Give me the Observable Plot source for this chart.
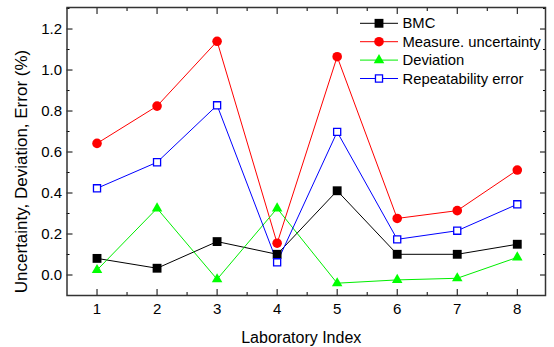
<!DOCTYPE html>
<html><head><meta charset="utf-8">
<script src="https://cdn.jsdelivr.net/npm/d3@7"></script>
<script src="https://cdn.jsdelivr.net/npm/@observablehq/plot@0.6"></script>
<style>body{margin:0;background:#fff} #chart{position:relative;width:554px;height:347px}</style>
</head><body><div id="chart"></div>
<script>
// ---- data ----
const labs = [1, 2, 3, 4, 5, 6, 7, 8];
const bmc = [0.081, 0.033, 0.163, 0.101, 0.411, 0.101, 0.101, 0.150];
const measureUnc = [0.642, 0.824, 1.140, 0.155, 1.065, 0.276, 0.314, 0.512];
const deviation = [0.024, 0.325, -0.021, 0.325, -0.040, -0.024, -0.016, 0.086];
const repeatability = [0.423, 0.550, 0.828, 0.062, 0.698, 0.174, 0.216, 0.345];
const seriesNames = ["BMC", "Measure. uncertainty", "Deviation", "Repeatability error"];
const xTicks = [1, 2, 3, 4, 5, 6, 7, 8];
const xMinor = [1.5, 2.5, 3.5, 4.5, 5.5, 6.5, 7.5];
const yTicks = [0.0, 0.2, 0.4, 0.6, 0.8, 1.0, 1.2];
const yMinor = [0.1, 0.3, 0.5, 0.7, 0.9, 1.1, 1.3];
const xTitle = "Laboratory Index";
const yTitle = "Uncertainty, Deviation, Error (%)";

// ---- styles ----
const seriesValues = [bmc, measureUnc, deviation, repeatability];
const styles = [
  {color: "#000000", symbol: "square", fill: "#000000", r: 5.0, sw: 0},
  {color: "#ff0000", symbol: "circle", fill: "#ff0000", r: 4.8, sw: 0},
  {color: "#00ee00", symbol: "triangle", fill: "#00ff00", r: 3.9, sw: 0},
  {color: "#0000ff", symbol: "square", fill: "#ffffff", r: 4.0, sw: 1.3}
];
const series = seriesNames.map((name, i) => ({
  name, style: styles[i],
  rows: labs.map((lab, j) => ({lab, value: seriesValues[i][j], name}))
}));

const font = "Liberation Sans, Arial, Helvetica, sans-serif";
const none = () => "";
const fmtY = d3.format(".1f");
const marks = [];
// tick labels
marks.push(
  Plot.text(xTicks, {x: d => d, text: d => String(d), frameAnchor: "bottom", lineAnchor: "top", dy: 8,
    fontSize: 15, fill: "#000", textAnchor: "middle"}),
  Plot.text(yTicks, {y: d => d, text: d => fmtY(d), frameAnchor: "left", lineAnchor: "middle", textAnchor: "end", dx: -5,
    fontSize: 15, fill: "#000"})
);
// tick marks (inward)
marks.push(
  Plot.axisX(xTicks, {anchor: "bottom", tickSize: 6, dy: -6, tickFormat: none, label: null}),
  Plot.axisX(xMinor, {anchor: "bottom", tickSize: 3, dy: -3, tickFormat: none, label: null}),
  Plot.axisX(xTicks, {anchor: "top", tickSize: 6, dy: 6, tickFormat: none, label: null}),
  Plot.axisX(xMinor, {anchor: "top", tickSize: 3, dy: 3, tickFormat: none, label: null}),
  Plot.axisY(yTicks, {anchor: "left", tickSize: 6, dx: 6, tickFormat: none, label: null}),
  Plot.axisY(yMinor, {anchor: "left", tickSize: 3, dx: 3, tickFormat: none, label: null}),
  Plot.axisY(yTicks, {anchor: "right", tickSize: 6, dx: -6, tickFormat: none, label: null}),
  Plot.axisY(yMinor, {anchor: "right", tickSize: 3, dx: -3, tickFormat: none, label: null})
);
for (const s of series) {
  marks.push(Plot.line(s.rows, {x: "lab", y: "value", stroke: s.style.color, strokeWidth: 1}));
}
for (const s of series) {
  marks.push(Plot.dot(s.rows, {x: "lab", y: "value", symbol: s.style.symbol, r: s.style.r,
    fill: s.style.fill, stroke: s.style.sw ? s.style.color : "none", strokeWidth: s.style.sw}));
}
marks.push(
  Plot.frame({stroke: "#333", strokeWidth: 1.5}),
  Plot.text([xTitle], {text: d => d, frameAnchor: "bottom", dx: -5, dy: 42, fontSize: 16, fill: "#000",
    textAnchor: "middle", lineAnchor: "middle"}),
  Plot.text([yTitle], {text: d => d, frameAnchor: "left", rotate: -90, dx: -45, dy: 20, fontSize: 17, fill: "#000",
    textAnchor: "middle", lineAnchor: "middle"})
);

const chart = Plot.plot({
  width: 554, height: 347,
  marginLeft: 66.5, marginRight: 9, marginTop: 7, marginBottom: 52,
  x: {domain: [0.5, 8.47], axis: null},
  y: {domain: [-0.1, 1.305], axis: null},
  style: {fontFamily: font, fontSize: "15px", color: "#000", background: "#fff", overflow: "visible"},
  marks
});
document.getElementById("chart").appendChild(chart);

// legend (inside plot, top-right)
const svg = d3.select(chart);
const lg = svg.append("g").attr("font-family", font).attr("font-size", 14.8).attr("text-anchor", "start");
series.forEach((s, i) => {
  const y = 23.3 + i * 18.4;
  const g = lg.append("g").attr("transform", `translate(0,${y})`);
  g.append("line").attr("x1", 360).attr("x2", 398).attr("y1", 0).attr("y2", 0)
    .attr("stroke", s.style.color).attr("stroke-width", 1);
  const sym = {square: d3.symbolSquare, circle: d3.symbolCircle, triangle: d3.symbolTriangle}[s.style.symbol];
  g.append("path").attr("transform", "translate(379,0)")
    .attr("d", d3.symbol(sym, Math.PI * s.style.r * s.style.r)())
    .attr("fill", s.style.fill)
    .attr("stroke", s.style.sw ? s.style.color : "none")
    .attr("stroke-width", s.style.sw);
  g.append("text").attr("x", 402.5).attr("y", 0).attr("dy", "0.35em").attr("fill", "#000")
    .attr("text-anchor", "start").text(s.name);
});
</script>
</body></html>
